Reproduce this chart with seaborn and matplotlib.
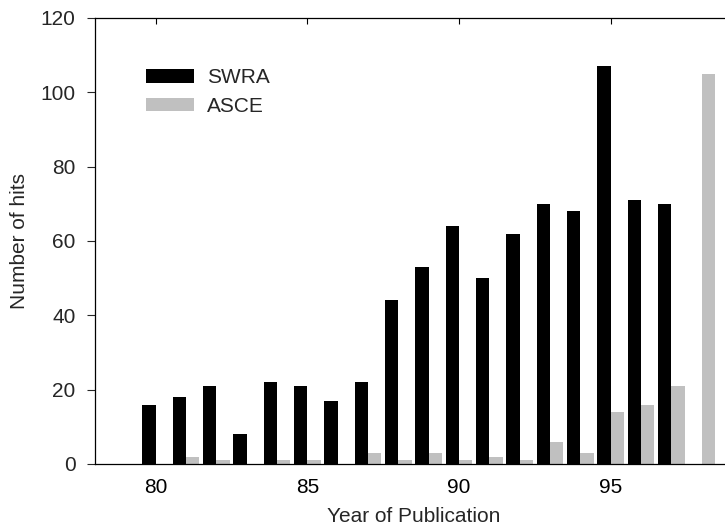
import pandas as pd
import numpy as np
import seaborn as sns
import matplotlib.pyplot as plt

# hits per publication year (19xx)
years = list(range(80, 99))
swra = [16, 18, 21, 8, 22, 21, 17, 22, 44, 53, 64, 50, 62, 70, 68, 107, 71, 70, 0]
asce = [0, 2, 1, 0, 1, 1, 0, 3, 1, 3, 1, 2, 1, 6, 3, 14, 16, 21, 105]
tick_years = [80, 85, 90, 95]

df = pd.DataFrame({
    'year': years * 2,
    'source': ['SWRA'] * len(years) + ['ASCE'] * len(years),
    'hits': swra + asce,
})

sns.set_style('ticks')
plt.rcParams['font.family'] = ['Liberation Sans', 'DejaVu Sans']
plt.rcParams['font.size'] = 15

fig = plt.figure(figsize=(7.25, 5.29), dpi=100)
ax = fig.add_axes([0.131, 0.1229, 0.8786, 0.8431])

sns.barplot(data=df, x='year', y='hits', hue='source', order=years,
            hue_order=['SWRA', 'ASCE'],
            palette={'SWRA': 'black', 'ASCE': '#c0c0c0'},
            width=0.88, linewidth=0, saturation=1, ax=ax)

ax.set_xlim(-2, 19)
ax.set_ylim(0, 120)
ax.set_yticks(np.arange(0, 121, 20))
ax.set_xticks([years.index(y) for y in tick_years])
ax.set_xticklabels([str(y) for y in tick_years])

for side in ['left', 'bottom', 'top', 'right']:
    ax.spines[side].set_visible(True)
    ax.spines[side].set_color('black')
    ax.spines[side].set_linewidth(0.9)

# ticks: inward on top only, outward on the left
ax.tick_params(axis='x', direction='in', top=True, bottom=False,
               length=4.5, width=0.8, pad=10, colors='black')
ax.tick_params(axis='y', direction='out', length=6, width=0.8, pad=8)

ax.set_xlabel('Year of Publication', labelpad=7)
ax.set_ylabel('Number of hits', labelpad=8)

ax.legend(frameon=False, loc='upper left', bbox_to_anchor=(0.08, 0.887),
          handlelength=2.3, handleheight=0.62, handletextpad=0.62,
          labelspacing=0.46, borderpad=0, borderaxespad=0)

fig.savefig('out.png', dpi=100)
